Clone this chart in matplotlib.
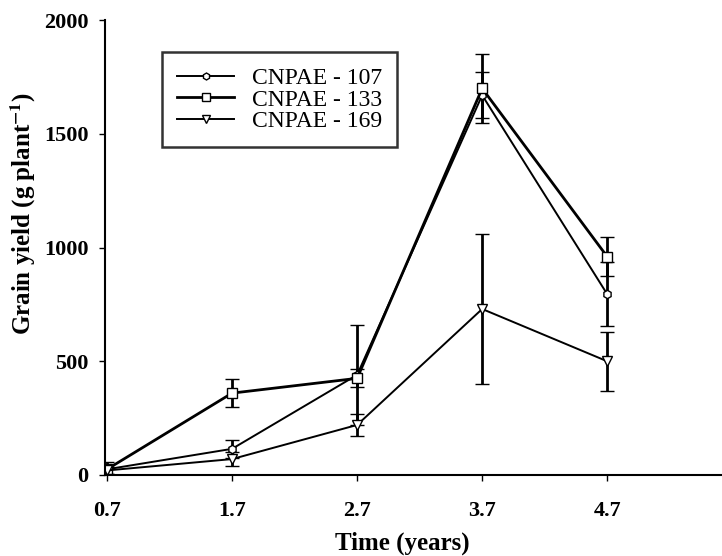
import numpy as np
import matplotlib
matplotlib.use("Agg")
import matplotlib.pyplot as plt
from matplotlib.lines import Line2D

plt.rcParams['font.family'] = ['Liberation Serif', 'DejaVu Serif']
plt.rcParams['mathtext.fontset'] = 'stix'

# data
tiempo = [0.7, 1.7, 2.7, 3.7, 4.7]

y_107 = [25, 115, 440, 1670, 795]
err_107 = [20, 40, 220, 100, 140]

y_133 = [25, 360, 425, 1700, 960]
err_133 = [30, 60, 40, 150, 85]

y_169 = [20, 70, 220, 730, 500]
err_169 = [15, 30, 50, 330, 130]

series = [
    ("CNPAE - 107", y_107, err_107, 'h', 6, 1.4),
    ("CNPAE - 133", y_133, err_133, 's', 7, 2.0),
    ("CNPAE - 169", y_169, err_169, 'v', 7, 1.4),
]

fig = plt.figure(figsize=(7.22, 5.56), dpi=100)
ax = fig.add_axes([0.1454, 0.1457, 0.855, 0.818])

handles = []
for nombre, y, e, mk, ms, lw in series:
    ax.errorbar(tiempo, y, yerr=e, color='black', lw=lw, marker=mk, ms=ms,
                mfc='white', mec='black', mew=1.0, ecolor='black',
                elinewidth=2.0, capsize=5, capthick=2.0)
    handles.append(Line2D([], [], color='black', lw=lw, marker=mk, ms=ms - 1,
                          mfc='white', mec='black', mew=1.0, label=nombre))

ax.set_xlim(0.684, 5.62)
ax.set_ylim(0, 2000)
ax.set_xticks(tiempo)
ax.set_xticklabels(['0.7', '1.7', '2.7', '3.7', '4.7'])
ax.set_yticks([0, 500, 1000, 1500, 2000])

for s in ['top', 'right']:
    ax.spines[s].set_visible(False)
for s in ['left', 'bottom']:
    ax.spines[s].set_linewidth(1.5)

ax.tick_params(axis='both', labelsize=16, length=4, width=1)
ax.tick_params(axis='x', pad=15)
ax.tick_params(axis='y', pad=8)
for lab in ax.get_xticklabels() + ax.get_yticklabels():
    lab.set_fontweight('bold')

ax.set_xlabel('Time (years)', fontsize=18, fontweight='bold')
ax.xaxis.set_label_coords(0.481, -0.125)
ax.set_ylabel(r'Grain yield (g plant$^{\mathbf{-1}}$)', fontsize=18,
              fontweight='bold')
ax.yaxis.set_label_coords(-0.108, 0.575)

leg = ax.legend(handles=handles, loc='upper left',
                bbox_to_anchor=(0.0924, 0.9297), borderaxespad=0,
                fontsize=17, frameon=True, fancybox=False, edgecolor='black',
                handlelength=2.4, handletextpad=0.75, borderpad=0.65,
                labelspacing=0.0)
leg.get_frame().set_linewidth(1.8)

fig.savefig('out.png', dpi=100)
